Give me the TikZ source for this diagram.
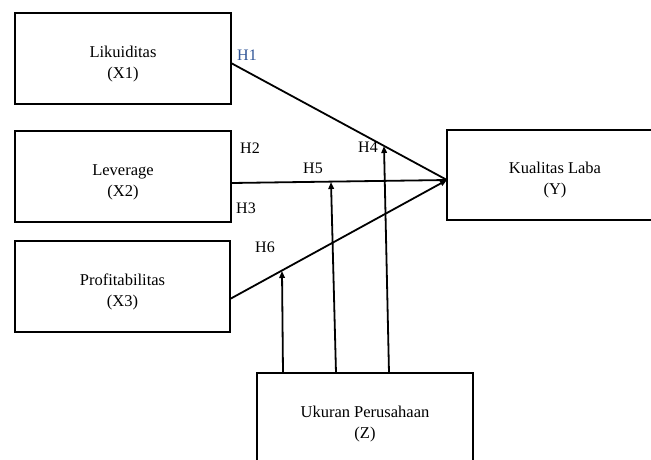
\documentclass[tikz,border=0pt]{standalone}
\usepackage{fontspec}
\setmainfont{Liberation Serif}
\usetikzlibrary{arrows.meta}
\definecolor{hblue}{RGB}{47,84,150}
\newcommand{\lowtxt}{\rule{0pt}{22pt}}
\begin{document}
\begin{tikzpicture}[x=1pt,y=-1pt,
  box/.style={draw,line width=1.9pt,minimum width=216pt,minimum height=91pt,inner sep=0pt,align=center,font=\fontsize{16.5}{21}\selectfont},
  conn/.style={line width=1.8pt},
  arr/.style={line width=1.8pt,-{Triangle[length=7pt,width=5.5pt]}},
  hlab/.style={font=\fontsize{16}{19}\selectfont,inner sep=0pt}]
\useasboundingbox (0,0) rectangle (651,459);
\node[box] (x1) at (123,58.5) {\lowtxt Likuiditas\\(X1)};
\node[box] (x2) at (123,176.5) {\lowtxt Leverage\\(X2)};
\node[box,minimum width=215pt] (x3) at (122.5,286.5) {\lowtxt Profitabilitas\\(X3)};
\node[box,minimum height=90pt] (y) at (555,175) {\lowtxt Kualitas Laba\\(Y)};
\node[box] (z) at (365,418.5) {\lowtxt Ukuran Perusahaan\\(Z)};
\coordinate (yin) at (447,180);
\coordinate (s1) at (231,63);
\coordinate (s2) at (231,183);
\coordinate (s3) at (230,299);
\draw[conn] (s1) -- (yin);
\draw[conn] (s2) -- (yin);
\draw[arr] (s3) -- (yin);
\coordinate (m4) at (384,146);
\coordinate (m5) at (331,182);
\coordinate (m6) at (282,271);
\coordinate (b4) at (389,373);
\coordinate (b5) at (336,373);
\coordinate (b6) at (283,373);
\draw[arr] (b4) -- (m4);
\draw[arr] (b5) -- (m5);
\draw[arr] (b6) -- (m6);
\node[hlab,text=hblue] (h1) at (247,55) {H1};
\node[hlab] (h2) at (250,148) {H2};
\node[hlab] (h3) at (246,208) {H3};
\node[hlab] (h4) at (368,147) {H4};
\node[hlab] (h5) at (313,168) {H5};
\node[hlab] (h6) at (265,247) {H6};
\end{tikzpicture}
\end{document}
